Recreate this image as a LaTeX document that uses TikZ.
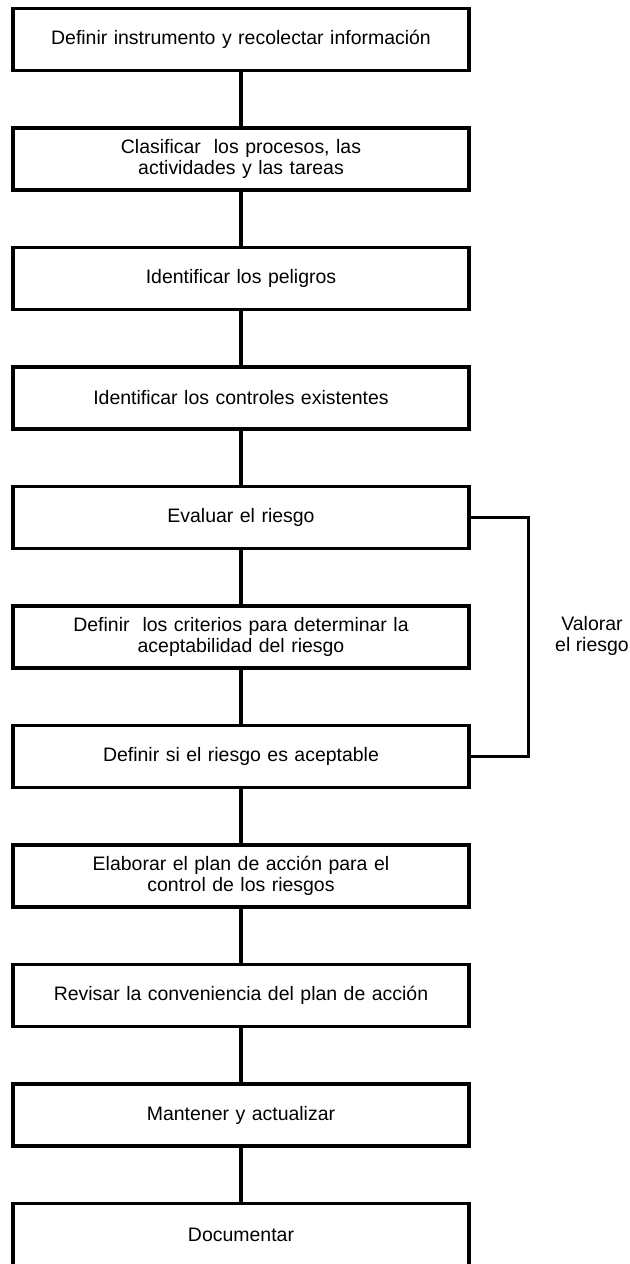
\documentclass[tikz,border=0pt]{standalone}
\usepackage{fontspec}
\setmainfont{Liberation Sans}
\usetikzlibrary{positioning}

\tikzset{
	paso/.style={draw, line width=2.3pt, minimum width=342pt, minimum height=46.5pt, inner sep=0pt, align=center, text width=330pt, font=\fontsize{14.6}{16}\selectfont},
	linea/.style={line width=2.3pt},
	llave/.style={line width=2pt},
}

\begin{document}
\begin{tikzpicture}[x=0.75pt, y=-0.75pt]
		\useasboundingbox (0,0) rectangle (630,1264);
		
		\node[paso] (instr) at (241,39.5) {Definir instrumento y recolectar información};
		\node[paso] (clasif) at (241,159) {Clasificar\ \ los procesos, las\\actividades y las tareas};
		\node[paso] (peligros) at (241,278.5) {Identificar los peligros};
		\node[paso] (controles) at (241,398) {Identificar los controles existentes};
		\node[paso] (evaluar) at (241,517.5) {Evaluar el riesgo};
		\node[paso] (criterios) at (241,637) {Definir\ \ los criterios para determinar la\\aceptabilidad del riesgo};
		\node[paso] (acept) at (241,756.5) {Definir si el riesgo es aceptable};
		\node[paso] (plan) at (241,876) {Elaborar el plan de acción para el\\control de los riesgos};
		\node[paso] (revisar) at (241,995.5) {Revisar la conveniencia del plan de acción};
		\node[paso] (mantener) at (241,1115) {Mantener y actualizar};
		\node[paso] (doc) at (241,1234.5) {Documentar};
		
		\draw[linea] (instr) -- (clasif);
		\draw[linea] (clasif) -- (peligros);
		\draw[linea] (peligros) -- (controles);
		\draw[linea] (controles) -- (evaluar);
		\draw[linea] (evaluar) -- (criterios);
		\draw[linea] (criterios) -- (acept);
		\draw[linea] (acept) -- (plan);
		\draw[linea] (plan) -- (revisar);
		\draw[linea] (revisar) -- (mantener);
		\draw[linea] (mantener) -- (doc);
		
		% valorar el riesgo
		\draw[llave] (evaluar.east) -- ++(58,0) |- (acept.east);
		\node[align=center, font=\fontsize{14.6}{16}\selectfont] (valorar) at (592,636) {Valorar\\el riesgo};
\end{tikzpicture}
\end{document}
